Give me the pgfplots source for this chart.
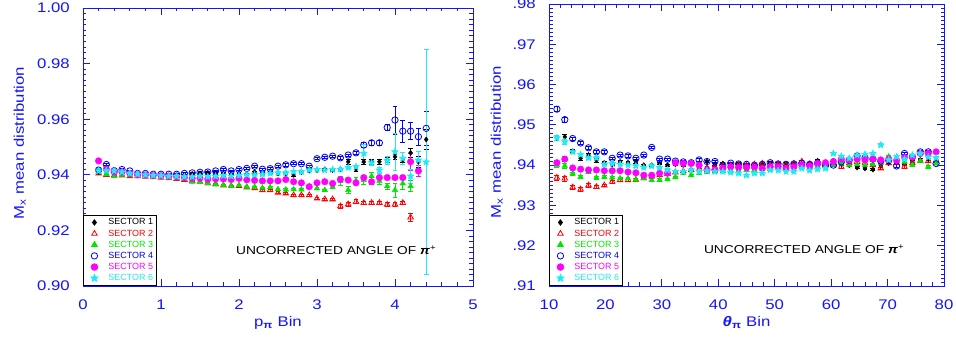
\documentclass[border=0pt]{standalone}
\usepackage{fontspec}
\setmainfont{Liberation Sans}
\newfontfamily\tickfont[FakeStretch=1.2]{Liberation Sans}
\usepackage{pgfplots}
\usepackage{pgfplotstable}
\pgfplotsset{compat=1.18}

\definecolor{sred}{RGB}{255,0,0}
\definecolor{sgreen}{RGB}{0,230,0}
\definecolor{sblue}{RGB}{0,0,255}
\definecolor{smag}{RGB}{255,0,255}
\definecolor{scyan}{RGB}{30,235,245}
\definecolor{axblue}{RGB}{20,20,255}

% five-pointed filled star
\pgfdeclareplotmark{fstar}{%
  \pgfpathmoveto{\pgfpointpolar{90}{\pgfplotmarksize}}%
  \pgfpathlineto{\pgfpointpolar{126}{0.45\pgfplotmarksize}}%
  \pgfpathlineto{\pgfpointpolar{162}{\pgfplotmarksize}}%
  \pgfpathlineto{\pgfpointpolar{198}{0.45\pgfplotmarksize}}%
  \pgfpathlineto{\pgfpointpolar{234}{\pgfplotmarksize}}%
  \pgfpathlineto{\pgfpointpolar{270}{0.45\pgfplotmarksize}}%
  \pgfpathlineto{\pgfpointpolar{306}{\pgfplotmarksize}}%
  \pgfpathlineto{\pgfpointpolar{342}{0.45\pgfplotmarksize}}%
  \pgfpathlineto{\pgfpointpolar{18}{\pgfplotmarksize}}%
  \pgfpathlineto{\pgfpointpolar{54}{0.45\pgfplotmarksize}}%
  \pgfpathclose
  \pgfusepathqfillstroke}

% mean M_x per momentum bin, six sectors (value, error)
\pgfplotstableread{
x   s1     e1     s2     e2     s3     e3     s4     e4     s5     e5     s6     e6
0.2 0.9410 0.0004 0.9405 0.0004 0.9410 0.0004 0.9417 0.0004 0.9450 0.0004 0.9414 0.0008
0.3 0.9410 0.0003 0.9400 0.0003 0.9402 0.0003 0.9437 0.0003 0.9420 0.0003 0.9415 0.0003
0.4 0.9405 0.0003 0.9398 0.0003 0.9395 0.0003 0.9415 0.0003 0.9410 0.0003 0.9414 0.0003
0.5 0.9405 0.0003 0.9398 0.0003 0.9400 0.0003 0.9419 0.0003 0.9410 0.0003 0.9410 0.0003
0.6 0.9400 0.0003 0.9395 0.0003 0.9398 0.0003 0.9414 0.0003 0.9405 0.0003 0.9405 0.0003
0.7 0.9400 0.0003 0.9395 0.0003 0.9397 0.0003 0.9405 0.0003 0.9400 0.0003 0.9402 0.0003
0.8 0.9400 0.0003 0.9393 0.0003 0.9395 0.0003 0.9405 0.0003 0.9400 0.0003 0.9400 0.0003
0.9 0.9398 0.0003 0.9392 0.0003 0.9393 0.0003 0.9402 0.0003 0.9398 0.0003 0.9398 0.0003
1.0 0.9398 0.0003 0.9390 0.0003 0.9392 0.0003 0.9402 0.0003 0.9397 0.0003 0.9397 0.0003
1.1 0.9398 0.0003 0.9388 0.0003 0.9390 0.0003 0.9402 0.0003 0.9395 0.0003 0.9395 0.0003
1.2 0.9400 0.0003 0.9385 0.0003 0.9387 0.0003 0.9402 0.0003 0.9393 0.0003 0.9395 0.0003
1.3 0.9400 0.0003 0.9382 0.0003 0.9385 0.0003 0.9405 0.0003 0.9390 0.0003 0.9393 0.0003
1.4 0.9403 0.0003 0.9378 0.0003 0.9375 0.0003 0.9407 0.0003 0.9387 0.0003 0.9393 0.0003
1.5 0.9405 0.0003 0.9375 0.0003 0.9375 0.0003 0.9409 0.0003 0.9388 0.0003 0.9395 0.0003
1.6 0.9407 0.0003 0.9370 0.0003 0.9369 0.0003 0.9410 0.0003 0.9384 0.0003 0.9393 0.0003
1.7 0.9405 0.0003 0.9367 0.0003 0.9365 0.0003 0.9414 0.0003 0.9385 0.0003 0.9395 0.0003
1.8 0.9405 0.0003 0.9362 0.0003 0.9363 0.0003 0.9419 0.0003 0.9385 0.0003 0.9397 0.0003
1.9 0.9403 0.0003 0.9360 0.0003 0.9359 0.0003 0.9414 0.0003 0.9383 0.0003 0.9395 0.0003
2.0 0.9405 0.0003 0.9360 0.0003 0.9363 0.0003 0.9419 0.0003 0.9387 0.0003 0.9398 0.0003
2.1 0.9403 0.0003 0.9355 0.0003 0.9357 0.0003 0.9423 0.0003 0.9382 0.0003 0.9400 0.0003
2.2 0.9410 0.0003 0.9352 0.0003 0.9357 0.0003 0.9431 0.0003 0.9380 0.0003 0.9400 0.0003
2.3 0.9405 0.0003 0.9345 0.0003 0.9353 0.0003 0.9420 0.0003 0.9378 0.0003 0.9402 0.0003
2.4 0.9410 0.0003 0.9345 0.0003 0.9355 0.0003 0.9422 0.0003 0.9378 0.0003 0.9405 0.0003
2.5 0.9405 0.0004 0.9336 0.0004 0.9348 0.0004 0.9431 0.0004 0.9378 0.0004 0.9407 0.0004
2.6 0.9405 0.0004 0.9333 0.0004 0.9347 0.0004 0.9436 0.0004 0.9383 0.0004 0.9407 0.0004
2.7 0.9400 0.0004 0.9327 0.0004 0.9348 0.0004 0.9440 0.0004 0.9375 0.0004 0.9411 0.0004
2.8 0.9410 0.0004 0.9327 0.0004 0.9347 0.0004 0.9440 0.0004 0.9371 0.0004 0.9411 0.0004
2.9 0.9415 0.0004 0.9327 0.0004 0.9357 0.0004 0.9431 0.0004 0.9357 0.0004 0.9417 0.0004
3.0 0.9417 0.0004 0.9315 0.0004 0.9351 0.0004 0.9458 0.0004 0.9371 0.0004 0.9419 0.0004
3.1 0.9420 0.0004 0.9312 0.0004 0.9345 0.0004 0.9463 0.0004 0.9375 0.0004 0.9417 0.0004
3.2 0.9417 0.0004 0.9312 0.0004 0.9357 0.0004 0.9467 0.0004 0.9369 0.0004 0.9419 0.0004
3.3 0.9420 0.0004 0.9287 0.0007 0.9378 0.0015 0.9461 0.0004 0.9383 0.0004 0.9420 0.0004
3.4 0.9447 0.0010 0.9294 0.0007 0.9345 0.0012 0.9471 0.0004 0.9381 0.0004 0.9426 0.0004
3.5 0.9420 0.0008 0.9303 0.0007 0.9378 0.0012 0.9479 0.0004 0.9371 0.0004 0.9429 0.0004
3.6 0.9447 0.0008 0.9299 0.0007 0.9381 0.0015 0.9507 0.0008 0.9390 0.0008 0.9477 0.0033
3.7 0.9447 0.0008 0.9299 0.0007 0.9395 0.0015 0.9515 0.0008 0.9375 0.0008 0.9443 0.0010
3.8 0.9447 0.0008 0.9299 0.0007 0.9378 0.0012 0.9515 0.0008 0.9390 0.0008 0.9417 0.0010
3.9 0.9453 0.0008 0.9293 0.0007 0.9359 0.0012 0.9570 0.0010 0.9390 0.0008 0.9451 0.0015
4.0 0.9465 0.0010 0.9293 0.0007 0.9345 0.0025 0.9597 0.0050 0.9390 0.0008 0.9483 0.0066
4.1 0.9453 0.0010 0.9299 0.0007 0.9369 0.0020 0.9557 0.0040 0.9390 0.0008 0.9459 0.0020
4.2 0.9479 0.0015 0.9247 0.0015 0.9359 0.0020 0.9557 0.0030 0.9447 0.0030 0.9395 0.0025
4.3 0.9447 0.0020 nan    nan    nan    nan    0.9537 0.0030 0.9414 0.0020 0.9453 0.0030
4.4 0.9527 0.0035 nan    nan    nan    nan    0.9567 0.0060 nan    nan    0.9446 0.0405
}\pdata

% mean M_x per polar-angle bin, six sectors, common error column
\pgfplotstableread{
x    s1     s2     s3     s4     s5     s6     e
11.4 0.9468 0.9369 0.9400 0.9539 0.9406 0.9468 0.0006
12.8 0.9470 0.9367 0.9398 0.9513 0.9415 0.9458 0.0006
14.2 0.9435 0.9345 0.9379 0.9466 0.9393 0.9433 0.0004
15.6 0.9417 0.9340 0.9371 0.9455 0.9390 0.9426 0.0004
17.0 0.9425 0.9350 0.9383 0.9443 0.9388 0.9418 0.0004
18.4 0.9412 0.9346 0.9369 0.9433 0.9388 0.9418 0.0004
19.8 0.9406 0.9350 0.9371 0.9433 0.9386 0.9402 0.0003
21.2 0.9402 0.9359 0.9369 0.9417 0.9386 0.9404 0.0003
22.6 0.9408 0.9363 0.9367 0.9425 0.9386 0.9402 0.0003
24.0 0.9406 0.9363 0.9367 0.9423 0.9383 0.9400 0.0003
25.4 0.9408 0.9364 0.9364 0.9417 0.9381 0.9398 0.0003
26.8 0.9400 0.9368 0.9367 0.9425 0.9375 0.9394 0.0003
28.2 0.9400 0.9372 0.9363 0.9444 0.9375 0.9398 0.0003
29.6 0.9404 0.9375 0.9363 0.9415 0.9380 0.9394 0.0003
31.0 0.9400 0.9378 0.9365 0.9415 0.9380 0.9388 0.0003
32.4 0.9402 0.9382 0.9370 0.9410 0.9406 0.9384 0.0003
33.8 0.9400 0.9385 0.9380 0.9408 0.9404 0.9384 0.0003
35.2 0.9404 0.9388 0.9375 0.9406 0.9404 0.9388 0.0003
36.6 0.9400 0.9390 0.9380 0.9413 0.9400 0.9384 0.0003
38.0 0.9409 0.9393 0.9382 0.9409 0.9388 0.9386 0.0003
39.4 0.9402 0.9395 0.9384 0.9409 0.9388 0.9384 0.0003
40.8 0.9404 0.9398 0.9385 0.9400 0.9392 0.9384 0.0003
42.2 0.9402 0.9398 0.9386 0.9405 0.9396 0.9382 0.0003
43.6 0.9402 0.9400 0.9385 0.9403 0.9394 0.9380 0.0003
45.0 0.9400 0.9400 0.9388 0.9402 0.9394 0.9375 0.0003
46.4 0.9398 0.9402 0.9388 0.9400 0.9395 0.9380 0.0003
47.8 0.9400 0.9404 0.9390 0.9402 0.9392 0.9380 0.0003
49.2 0.9404 0.9400 0.9390 0.9406 0.9396 0.9388 0.0003
50.6 0.9403 0.9402 0.9392 0.9403 0.9396 0.9387 0.0003
52.0 0.9403 0.9400 0.9392 0.9402 0.9392 0.9384 0.0003
53.4 0.9402 0.9404 0.9395 0.9403 0.9396 0.9384 0.0003
54.8 0.9403 0.9409 0.9396 0.9405 0.9400 0.9392 0.0003
56.2 0.9404 0.9402 0.9396 0.9402 0.9398 0.9387 0.0003
57.6 0.9411 0.9405 0.9398 0.9405 0.9404 0.9390 0.0003
59.0 0.9405 0.9400 0.9398 0.9400 0.9406 0.9392 0.0003
60.4 0.9411 0.9400 0.9400 0.9400 0.9409 0.9429 0.0003
61.8 0.9403 0.9396 0.9404 0.9408 0.9415 0.9422 0.0003
63.2 0.9400 0.9405 0.9400 0.9412 0.9413 0.9417 0.0003
64.6 0.9394 0.9408 0.9402 0.9423 0.9415 0.9425 0.0003
66.0 0.9392 0.9405 0.9400 0.9418 0.9413 0.9427 0.0003
67.4 0.9389 0.9400 0.9402 0.9415 0.9415 0.9429 0.0003
68.8 0.9398 0.9392 0.9405 0.9410 0.9413 0.9450 0.0003
70.2 0.9405 0.9405 0.9421 0.9412 0.9415 0.9413 0.0003
71.6 0.9408 0.9405 0.9410 0.9398 0.9412 0.9421 0.0003
73.0 0.9405 0.9396 0.9408 0.9429 0.9419 0.9415 0.0003
74.4 0.9410 0.9405 0.9400 0.9420 0.9420 0.9425 0.0003
75.8 0.9413 0.9410 0.9410 0.9433 0.9429 0.9429 0.0003
77.2 0.9415 0.9410 0.9396 0.9433 0.9429 0.9420 0.0003
78.6 0.9412 0.9410 0.9404 0.9404 0.9433 0.9418 0.0003
}\tdata

\tikzset{
  anglenote/.style={anchor=west, font=\tickfont\fontsize{11.5}{12}\selectfont,
    inner sep=0pt},
}

\pgfplotsset{
  mxframe/.style={
    scale only axis,
    axis line style={axblue, line width=0.9pt},
    tick style={axblue, line width=0.8pt},
    major tick length=7bp,
    minor tick length=3.5bp,
    tick label style={axblue, font=\tickfont\fontsize{14}{14}\selectfont, inner sep=0pt},
    xticklabel shift=14bp,
    yticklabel shift=13bp,
    label style={axblue, font=\tickfont\fontsize{14}{14}\selectfont},
    legend cell align=left,
    legend image code/.code={%
      \path[draw=none, fill=none] (0bp,0bp) -- (22bp,0bp);
      \draw[only marks] plot coordinates {(10bp,0bp)};},
    legend style={at={(0,0)}, anchor=south west, draw=black, line width=0.9pt,
      fill=white, font=\fontsize{9}{10}\selectfont, row sep=-0.6bp,
      inner xsep=1bp, inner ysep=1.5bp},
    error bars/error bar style={line width=0.7pt},
    error bars/error mark options={rotate=90, mark size=2.5pt, line width=0.7pt},
  },
  sec1/.style={only marks, black, mark=diamond*, mark size=2.6pt,
    error bars/.cd, y dir=both, y explicit},
  sec2/.style={only marks, sred, mark=triangle, mark size=3.2pt,
    mark options={line width=0.8pt}, error bars/.cd, y dir=both, y explicit},
  sec3/.style={only marks, sgreen, mark=triangle*, mark size=3.2pt,
    error bars/.cd, y dir=both, y explicit},
  sec4/.style={only marks, sblue, mark=o, mark size=3.2pt,
    mark options={line width=0.8pt}, error bars/.cd, y dir=both, y explicit},
  sec5/.style={only marks, smag, mark=*, mark size=3.3pt,
    error bars/.cd, y dir=both, y explicit},
  sec6/.style={only marks, scyan, mark=fstar, mark size=3.6pt,
    error bars/.cd, y dir=both, y explicit},
}

\begin{document}
\begin{tikzpicture}
\path[use as bounding box] (0,0) rectangle (956bp,339bp);

\begin{axis}[mxframe,
  at={(83bp,53bp)}, anchor=south west,
  width=390bp, height=278bp,
  xmin=0, xmax=5, ymin=0.90, ymax=1.00,
  xtick={0,1,2,3,4,5}, xticklabels={0,1,2,3,4,5},
  minor x tick num=4,
  ytick={0.90,0.92,0.94,0.96,0.98,1.00},
  yticklabels={0.90,0.92,0.94,0.96,0.98,1.00},
  minor y tick num=9,
  xlabel={p\textsubscript{\textbf{π}} Bin},
  ylabel={M\textsubscript{x} mean distribution},
  xlabel style={at={(axis description cs:0.5,-0.144)}, anchor=base},
  ylabel style={at={(axis description cs:-0.162,0.514)}, anchor=center},
]
\addplot[sec1] table[x=x, y=s1, y error=e1] {\pdata};
\addlegendentry{\textcolor{black}{SECTOR 1}}
\addplot[sec2] table[x=x, y=s2, y error=e2] {\pdata};
\addlegendentry{\textcolor{sred}{SECTOR 2}}
\addplot[sec3] table[x=x, y=s3, y error=e3] {\pdata};
\addlegendentry{\textcolor{sgreen}{SECTOR 3}}
\addplot[sec4] table[x=x, y=s4, y error=e4] {\pdata};
\addlegendentry{\textcolor{sblue}{SECTOR 4}}
\addplot[sec5] table[x=x, y=s5, y error=e5] {\pdata};
\addlegendentry{\textcolor{smag}{SECTOR 5}}
\addplot[sec6] table[x=x, y=s6, y error=e6] {\pdata};
\addlegendentry{\textcolor{scyan}{SECTOR 6}}
\node[anglenote] at (axis description cs:0.392,0.129)
  {UNCORRECTED ANGLE OF \textbf{\textit{π}}\textsuperscript{+}};
\end{axis}

\begin{axis}[mxframe,
  at={(549bp,53bp)}, anchor=south west,
  width=395bp, height=282bp,
  xmin=10, xmax=80, ymin=0.91, ymax=0.98,
  xtick={10,20,30,40,50,60,70,80},
  xticklabels={10,20,30,40,50,60,70,80},
  minor x tick num=4,
  ytick={0.91,0.92,0.93,0.94,0.95,0.96,0.97,0.98},
  yticklabels={.91,.92,.93,.94,.95,.96,.97,.98},
  minor y tick num=9,
  xlabel={\textbf{\textit{θ}}\textsubscript{\textbf{π}} Bin},
  ylabel={M\textsubscript{x} mean distribution},
  xlabel style={at={(axis description cs:0.5,-0.142)}, anchor=base},
  ylabel style={at={(axis description cs:-0.132,0.51)}, anchor=center},
]
\addplot[sec1] table[x=x, y=s1, y error=e] {\tdata};
\addlegendentry{\textcolor{black}{SECTOR 1}}
\addplot[sec2] table[x=x, y=s2, y error=e] {\tdata};
\addlegendentry{\textcolor{sred}{SECTOR 2}}
\addplot[sec3] table[x=x, y=s3, y error=e] {\tdata};
\addlegendentry{\textcolor{sgreen}{SECTOR 3}}
\addplot[sec4] table[x=x, y=s4, y error=e] {\tdata};
\addlegendentry{\textcolor{sblue}{SECTOR 4}}
\addplot[sec5] table[x=x, y=s5, y error=e] {\tdata};
\addlegendentry{\textcolor{smag}{SECTOR 5}}
\addplot[sec6] table[x=x, y=s6, y error=e] {\tdata};
\addlegendentry{\textcolor{scyan}{SECTOR 6}}
\node[anglenote] at (axis description cs:0.392,0.131)
  {UNCORRECTED ANGLE OF \textbf{\textit{π}}\textsuperscript{+}};
\end{axis}
\end{tikzpicture}
\end{document}
